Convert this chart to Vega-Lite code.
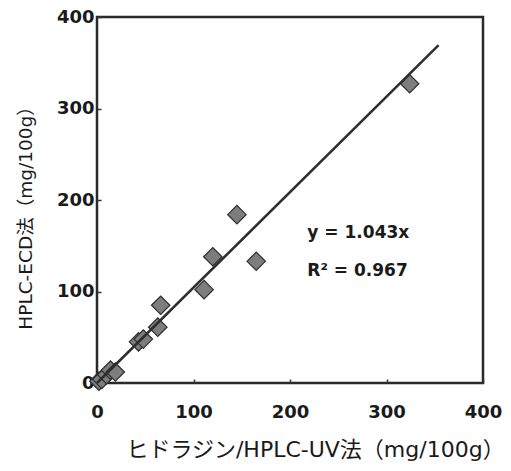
{
  "$schema": "https://vega.github.io/schema/vega-lite/v6.json",
  "width": 386,
  "height": 366,
  "autosize": "none",
  "padding": {"left": 97, "top": 17, "right": 28, "bottom": 88},
  "background": "white",
  "config": {
    "view": {"stroke": "#2a2a2a", "strokeWidth": 2.5},
    "axis": {
      "grid": false,
      "domain": false,
      "ticks": true,
      "tickSize": -4,
      "tickColor": "#333",
      "tickWidth": 1.5,
      "labelFont": "DejaVu Sans",
      "labelFontSize": 18,
      "labelFontWeight": "bold",
      "labelColor": "#1a1a1a",
      "titleFont": "DejaVu Sans, Noto Sans CJK JP",
      "titleFontWeight": "normal",
      "titleColor": "#1a1a1a"
    }
  },
  "datasets": {
    "pts": [
      {"x": 2, "y": 2},
      {"x": 5, "y": 4},
      {"x": 10, "y": 9},
      {"x": 14, "y": 14},
      {"x": 19, "y": 12},
      {"x": 43, "y": 45},
      {"x": 48, "y": 48},
      {"x": 63, "y": 61},
      {"x": 66, "y": 85},
      {"x": 111, "y": 102},
      {"x": 120, "y": 138},
      {"x": 145, "y": 184},
      {"x": 165, "y": 133},
      {"x": 324, "y": 327}
    ],
    "fit": [
      {"x": 0, "y": 0},
      {"x": 354, "y": 369.2}
    ],
    "notes": [
      {"x": 218, "y": 164, "label": "y = 1.043x"},
      {"x": 218, "y": 122, "label": "R² = 0.967"}
    ]
  },
  "layer": [
    {
      "data": {"name": "pts"},
      "mark": {"type": "point", "shape": "diamond", "filled": true, "size": 340, "fill": "#7d7d7d", "stroke": "#2e2e2e", "strokeWidth": 1.2, "opacity": 1},
      "encoding": {
        "x": {
          "field": "x", "type": "quantitative",
          "scale": {"domain": [0, 400], "nice": false},
          "axis": {"values": [0, 100, 200, 300, 400], "title": "ヒドラジン/HPLC-UV法（mg/100g）", "titleFontSize": 22, "titleX": 218, "labelPadding": 24, "titlePadding": 18, "labelFlush": false}
        },
        "y": {
          "field": "y", "type": "quantitative",
          "scale": {"domain": [0, 400], "nice": false},
          "axis": {"values": [0, 100, 200, 300, 400], "title": "HPLC-ECD法（mg/100g）", "titleFontSize": 18.5, "titleY": 196, "labelPadding": 7, "titlePadding": 21, "labelFlush": false}
        }
      }
    },
    {
      "data": {"name": "fit"},
      "mark": {"type": "line", "color": "#2e2e2e", "strokeWidth": 2.5},
      "encoding": {
        "x": {"field": "x", "type": "quantitative"},
        "y": {"field": "y", "type": "quantitative"}
      }
    },
    {
      "data": {"name": "notes"},
      "mark": {"type": "text", "align": "left", "baseline": "middle", "font": "DejaVu Sans", "fontSize": 17, "fontWeight": "bold", "color": "#1a1a1a"},
      "encoding": {
        "x": {"field": "x", "type": "quantitative"},
        "y": {"field": "y", "type": "quantitative"},
        "text": {"field": "label"}
      }
    }
  ]
}
